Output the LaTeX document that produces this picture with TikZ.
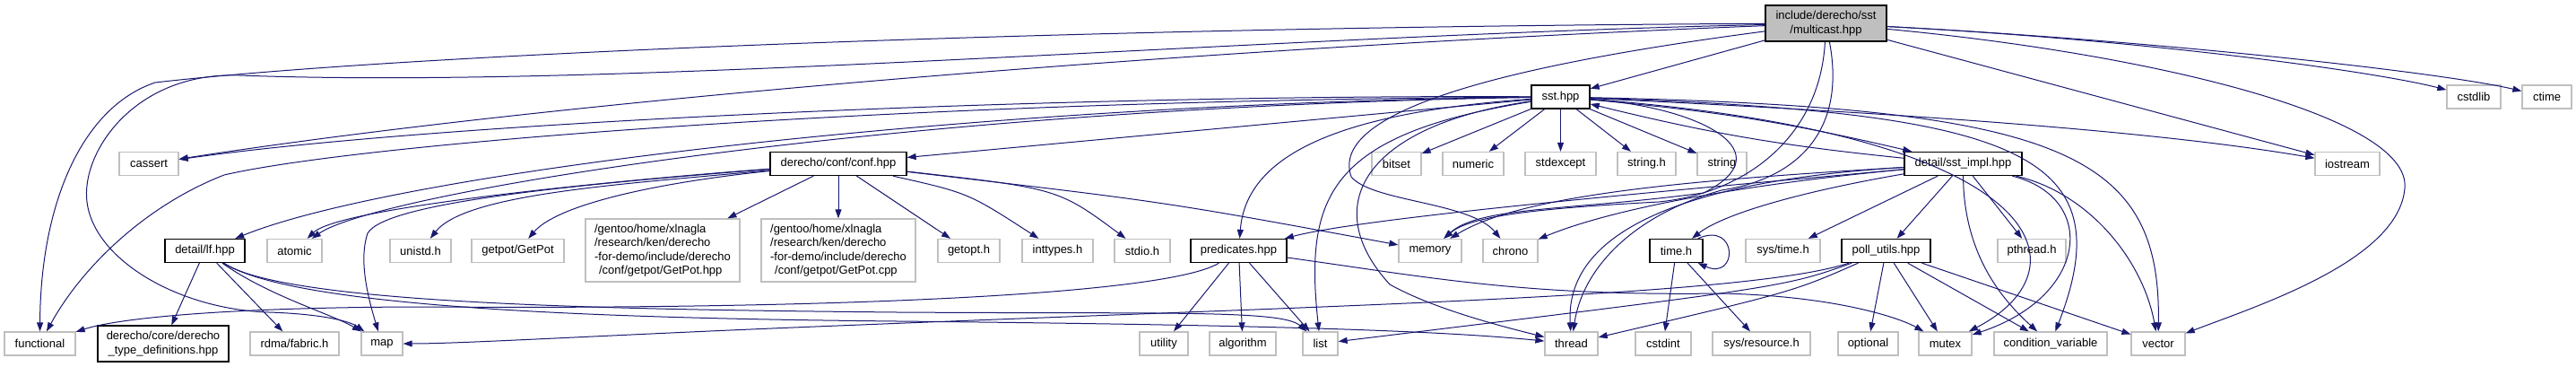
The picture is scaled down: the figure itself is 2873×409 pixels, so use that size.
\documentclass[tikz,border=0pt]{standalone}
\usepackage{fontspec}
\setmainfont{Liberation Sans}
\usepackage{tikz}
\usepackage{xcolor}
\usetikzlibrary{positioning,calc,arrows.meta}
\definecolor{edgeblue}{HTML}{191970}
\definecolor{sysgray}{HTML}{BFBFBF}
\definecolor{rootgray}{HTML}{BFBFBF}

\begin{document}
\begin{tikzpicture}[x=1pt, y=-1pt, >={Triangle[length=10pt,width=7pt]}, font=\fontsize{13}{15.5}\selectfont]
    \tikzstyle{sys node} = [rectangle, draw=sysgray, line width=1.3pt, inner sep=0pt, minimum height=26pt]
    \tikzstyle{file node} = [rectangle, draw=black, line width=1.3pt, inner sep=0pt, minimum height=26pt]
    \tikzstyle{root node} = [file node, fill=rootgray, align=center, minimum height=40pt]
    \tikzstyle{inc} = [->, color=edgeblue, line width=1pt]
    \useasboundingbox (0,0) rectangle (2873,409);

    \node[root node, minimum width=135pt] (multicast) at (2036.5,26) {include/derecho/sst\\/multicast.hpp};

    \node[file node, minimum width=65pt] (sst) at (1740.5,108) {sst.hpp};
    \node[sys node, minimum width=60pt] (cstdlib) at (2759,108) {cstdlib};
    \node[sys node, minimum width=55pt] (ctime) at (2840.5,108) {ctime};

    \node[sys node, minimum width=66pt] (cassert) at (166,182.5) {cassert};
    \node[file node, minimum width=152pt] (conf) at (935,182.5) {derecho/conf/conf.hpp};
    \node[sys node, minimum width=55pt] (bitset) at (1557.5,182.5) {bitset};
    \node[sys node, minimum width=68pt] (numeric) at (1643,182.5) {numeric};
    \node[sys node, minimum width=79pt] (stdexcept) at (1740.5,182.5) {stdexcept};
    \node[sys node, minimum width=65pt] (stringh) at (1836.5,182.5) {string.h};
    \node[sys node, minimum width=55pt] (string) at (1920.5,182.5) {string};
    \node[file node, minimum width=131pt] (sstimpl) at (2189.5,182.5) {detail/sst\_impl.hpp};
    \node[sys node, minimum width=72pt] (iostream) at (2618,182.5) {iostream};

    \node[file node, minimum width=89pt] (lf) at (228.5,279.5) {detail/lf.hpp};
    \node[sys node, minimum width=61pt] (atomic) at (328.5,279.5) {atomic};
    \node[sys node, minimum width=68pt] (unistd) at (469,279.5) {unistd.h};
    \node[sys node, minimum width=103pt] (getpot) at (577.5,279.5) {getpot/GetPot};
    \node[sys node, minimum width=172pt, minimum height=70pt, align=left] (getpothpp) at (739,279) {/gentoo/home/xlnagla\\/research/ken/derecho\\-for-demo/include/derecho\\\hspace*{5pt}/conf/getpot/GetPot.hpp};
    \node[sys node, minimum width=172pt, minimum height=70pt, align=left] (getpotcpp) at (935,279) {/gentoo/home/xlnagla\\/research/ken/derecho\\-for-demo/include/derecho\\\hspace*{5pt}/conf/getpot/GetPot.cpp};
    \node[sys node, minimum width=69pt] (getopt) at (1080.5,279.5) {getopt.h};
    \node[sys node, minimum width=79pt] (inttypes) at (1179.5,279.5) {inttypes.h};
    \node[sys node, minimum width=62pt] (stdio) at (1274,279.5) {stdio.h};
    \node[file node, minimum width=107pt] (predicates) at (1381.5,279.5) {predicates.hpp};
    \node[sys node, minimum width=70pt] (memory) at (1595,279.5) {memory};
    \node[sys node, minimum width=61pt] (chrono) at (1684.5,279.5) {chrono};
    \node[file node, minimum width=59pt] (timeh) at (1869.5,279.5) {time.h};
    \node[sys node, minimum width=83pt] (systime) at (1988.5,279.5) {sys/time.h};
    \node[file node, minimum width=99pt] (pollutils) at (2103.5,279.5) {poll\_utils.hpp};
    \node[sys node, minimum width=76pt] (pthread) at (2266,279.5) {pthread.h};

    \node[sys node, minimum width=79pt] (functional) at (44.5,383) {functional};
    \node[file node, minimum width=146pt, minimum height=40pt, align=center] (typedefs) at (182,383) {derecho/core/derecho\\\_type\_definitions.hpp};
    \node[sys node, minimum width=99pt] (fabric) at (328.5,383) {rdma/fabric.h};
    \node[sys node, minimum width=46pt] (map) at (426,383) {map};
    \node[sys node, minimum width=54pt] (utility) at (1298,383) {utility};
    \node[sys node, minimum width=74pt] (algorithm) at (1386,383) {algorithm};
    \node[sys node, minimum width=39pt] (list) at (1472.5,383) {list};
    \node[sys node, minimum width=59pt] (thread) at (1752.5,383) {thread};
    \node[sys node, minimum width=62pt] (cstdint) at (1855,383) {cstdint};
    \node[sys node, minimum width=109pt] (sysresource) at (1964.5,383) {sys/resource.h};
    \node[sys node, minimum width=67pt] (optional) at (2083.5,383) {optional};
    \node[sys node, minimum width=59pt] (mutex) at (2169.5,383) {mutex};
    \node[sys node, minimum width=126pt] (condvar) at (2287,383) {condition\_variable};
    \node[sys node, minimum width=60pt] (vector) at (2407,383) {vector};

    % multicast.hpp
    \draw[inc] (multicast) .. controls (1200,30) and (450,60) .. (173,92) .. controls (90,120) and (45,230) .. (functional);
    \draw[inc] (multicast) .. controls (1400,40) and (700,100) .. (267,84) .. controls (150,80) and (90,170) .. (97,225) .. controls (105,290) and (200,345) .. (300,348) .. controls (360,350) and (390,358) .. (map);
    \draw[inc] (multicast) .. controls (1300,55) and (600,115) .. (cassert);
    \draw[inc] (multicast) -- (sst);
    \draw[inc] (multicast) .. controls (1700,70) and (1480,120) .. (1507,197) .. controls (1530,225) and (1640,225) .. (chrono);
    \draw[inc] (multicast) .. controls (2030,150) and (1950,215) .. (1850,225) .. controls (1720,232) and (1640,240) .. (memory);
    \draw[inc] (multicast) .. controls (2060,150) and (2000,200) .. (1920,212) .. controls (1820,240) and (1765,300) .. (thread);
    \draw[inc] (multicast) .. controls (2400,45) and (2650,80) .. (cstdlib);
    \draw[inc] (multicast) .. controls (2400,45) and (2720,80) .. (ctime);
    \draw[inc] (multicast) -- (iostream);
    \draw[inc] (multicast) .. controls (2400,60) and (2690,130) .. (2682,210) .. controls (2675,290) and (2520,340) .. (vector);

    % sst.hpp
    \draw[inc] (sst) .. controls (1200,105) and (500,135) .. (cassert);
    \draw[inc] (sst) .. controls (1000,112) and (400,160) .. (250,195) .. controls (160,230) and (90,300) .. (functional);
    \draw[inc] (sst) .. controls (1100,115) and (450,190) .. (lf);
    \draw[inc] (sst) .. controls (1000,120) and (420,215) .. (atomic);
    \draw[inc] (sst) -- (conf);
    \draw[inc] (sst) .. controls (1500,125) and (1390,170) .. (predicates);
    \draw[inc] (sst) .. controls (1480,150) and (1455,220) .. (list);
    \draw[inc] (sst) .. controls (1520,140) and (1470,230) .. (1550,317) .. controls (1600,345) and (1680,365) .. (thread);
    \draw[inc] (sst) .. controls (1900,120) and (1990,170) .. (1900,215) .. controls (1750,235) and (1650,230) .. (memory);
    \draw[inc] (sst) -- (bitset);
    \draw[inc] (sst) -- (numeric);
    \draw[inc] (sst) -- (stdexcept);
    \draw[inc] (sst) -- (stringh);
    \draw[inc] (sst) -- (string);
    \draw[inc] (sst) to[bend left=4] (sstimpl);
    \draw[inc] (sst) .. controls (2100,125) and (2400,145) .. (iostream);
    \draw[inc] (sst) .. controls (2250,125) and (2370,170) .. (condvar);
    \draw[inc] (sst) .. controls (2300,120) and (2410,170) .. (vector);
    \draw[inc] (sst) .. controls (2290,150) and (2330,300) .. (mutex);

    % derecho/conf/conf.hpp
    \draw[inc] (conf) .. controls (700,200) and (380,230) .. (atomic);
    \draw[inc] (conf) .. controls (650,205) and (430,225) .. (410,260) .. controls (400,290) and (410,330) .. (map);
    \draw[inc] (conf) .. controls (700,205) and (520,215) .. (unistd);
    \draw[inc] (conf) .. controls (720,205) and (620,230) .. (getpot);
    \draw[inc] (conf) -- (getpothpp);
    \draw[inc] (conf) -- (getpotcpp);
    \draw[inc] (conf) -- (getopt);
    \draw[inc] (conf) .. controls (1080,215) .. (inttypes);
    \draw[inc] (conf) .. controls (1180,210) .. (stdio);
    \draw[inc] (conf) .. controls (1300,225) .. (memory);

    % predicates.hpp
    \draw[inc] (predicates) -- (utility);
    \draw[inc] (predicates) -- (algorithm);
    \draw[inc] (predicates) -- (list);
    \draw[inc] (predicates) .. controls (1300,330) and (900,345) .. (480,342) .. controls (250,342) and (130,355) .. (functional);
    \draw[inc] (predicates) .. controls (1600,310) and (1700,330) .. (1920,327) .. controls (2050,330) and (2120,355) .. (mutex);

    % detail/lf.hpp
    \draw[inc] (lf) -- (typedefs);
    \draw[inc] (lf) -- (fabric);
    \draw[inc] (lf) .. controls (300,330) and (370,350) .. (map);
    \draw[inc] (lf) .. controls (330,345) and (700,355) .. (1000,358) .. controls (1400,362) and (1600,368) .. (thread);
    \draw[inc] (lf) .. controls (320,340) and (700,345) .. (1000,348) .. controls (1300,350) and (1430,345) .. (list);

    % time.h
    \draw[inc] (timeh) -- (cstdint);
    \draw[inc] (timeh) -- (sysresource);
    \draw[inc] ([xshift=-6pt]timeh.north east) .. controls +(45,-20) and +(45,20) .. ([xshift=-6pt]timeh.south east);

    % detail/sst_impl.hpp
    \draw[inc] (sstimpl) to[bend left=4] (sst);
    \draw[inc] (sstimpl) .. controls (1950,205) and (1530,240) .. (predicates);
    \draw[inc] (sstimpl) .. controls (1900,200) and (1700,215) .. (memory);
    \draw[inc] (sstimpl) .. controls (1900,210) and (1780,240) .. (chrono);
    \draw[inc] (sstimpl) .. controls (1900,200) and (1745,250) .. (thread);
    \draw[inc] (sstimpl) .. controls (2000,215) and (1920,240) .. (timeh);
    \draw[inc] (sstimpl) -- (systime);
    \draw[inc] (sstimpl) -- (pollutils);
    \draw[inc] (sstimpl) -- (pthread);
    \draw[inc] (sstimpl) .. controls (2190,290) and (2240,340) .. (condvar);
    \draw[inc] (sstimpl) .. controls (2340,220) and (2330,330) .. (mutex);
    \draw[inc] (sstimpl) .. controls (2330,215) and (2390,290) .. (vector);

    % poll_utils.hpp
    \draw[inc] (pollutils) -- (optional);
    \draw[inc] (pollutils) -- (mutex);
    \draw[inc] (pollutils) -- (condvar);
    \draw[inc] (pollutils) -- (vector);
    \draw[inc] (pollutils) .. controls (2000,325) .. (thread);
    \draw[inc] (pollutils) .. controls (1990,320) .. (list);
    \draw[inc] (pollutils) .. controls (1950,330) and (1500,340) .. (960,362) .. controls (700,372) and (520,383) .. (map);
\end{tikzpicture}
\end{document}
